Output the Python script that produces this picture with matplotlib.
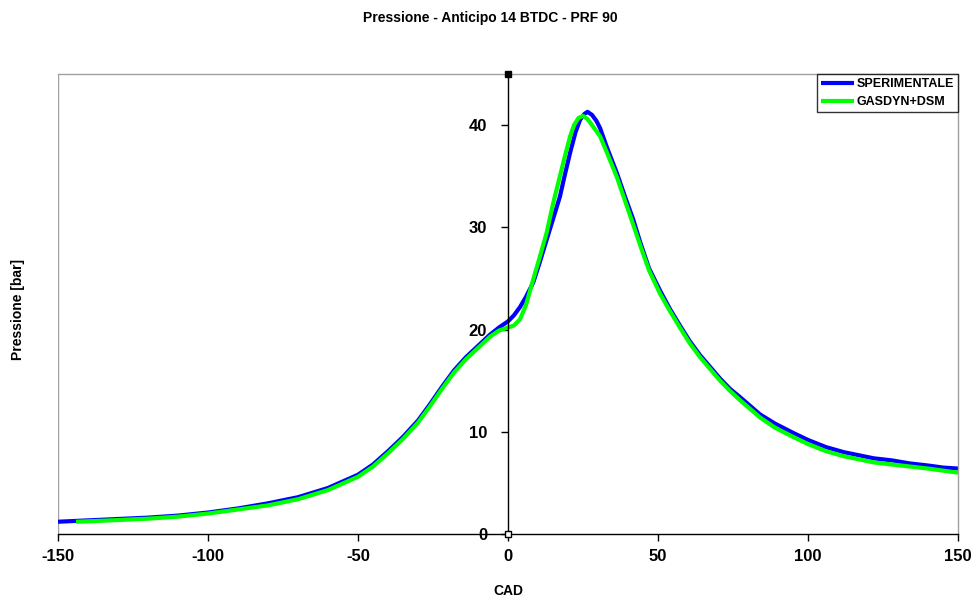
import matplotlib
matplotlib.use("Agg")
import matplotlib.pyplot as plt

# Data
cad_exp = [-150, -135, -120, -110, -100, -90, -80, -70, -60, -50, -45, -40, -35, -30, -26, -22,
           -18, -14, -10, -6, -3, 0, 2, 4, 6, 8.4, 10.5, 12.9, 15, 17.3, 19, 20.7, 22.5, 24,
           25.5, 26.5, 28, 29.5, 30.7, 33, 36.3, 39, 41.7, 44, 47, 50.7, 54, 57.3, 60.5, 64,
           67.5, 70.7, 74, 77.3, 84, 89, 95, 100, 106, 112, 117, 122, 128, 134, 140, 145, 150]
p_exp = [1.2, 1.4, 1.6, 1.8, 2.1, 2.5, 3.0, 3.6, 4.5, 5.8, 6.8, 8.1, 9.5, 11.1, 12.7, 14.4,
         16.0, 17.3, 18.4, 19.5, 20.2, 20.8, 21.4, 22.2, 23.2, 24.6, 26.5, 28.8, 30.8, 33.0, 35.2, 37.3, 39.3, 40.5,
         41.1, 41.3, 41.0, 40.4, 39.7, 37.8, 35.3, 33.0, 30.8, 28.6, 26.0, 23.8, 22.0, 20.4, 18.9, 17.5,
         16.3, 15.2, 14.2, 13.4, 11.7, 10.8, 9.9, 9.2, 8.5, 8.0, 7.7, 7.4, 7.2, 6.9, 6.7, 6.5, 6.4]

cad_sim = [-144, -135, -120, -110, -100, -90, -80, -70, -60, -50, -45, -40, -35, -30, -26, -22,
           -18, -14, -10, -6, -3, 0, 2, 4, 6, 8.4, 10.5, 12.9, 15, 17.3, 19, 20.7, 22, 23.5,
           25, 26.5, 28, 30.7, 33, 36.3, 39, 41.7, 44, 47, 50.7, 54, 57.3, 60.5, 64,
           67.5, 70.7, 74, 77.3, 84, 89, 95, 100, 106, 112, 117, 122, 128, 134, 140, 145, 150]
p_sim = [1.2, 1.3, 1.5, 1.7, 2.0, 2.4, 2.8, 3.4, 4.3, 5.6, 6.6, 7.9, 9.3, 10.9, 12.5, 14.2,
         15.8, 17.1, 18.2, 19.3, 19.9, 20.2, 20.4, 21.0, 22.4, 24.9, 27.0, 29.5, 32.3, 35.0, 37.0, 38.9, 40.0, 40.7,
         40.9, 40.6, 40.0, 38.9, 37.3, 34.9, 32.6, 30.3, 28.3, 25.8, 23.5, 21.8, 20.2, 18.7, 17.3,
         16.1, 15.0, 14.0, 13.1, 11.4, 10.4, 9.5, 8.8, 8.1, 7.6, 7.3, 7.0, 6.8, 6.6, 6.4, 6.2, 6.0]

x_ticks = [-150, -100, -50, 0, 50, 100, 150]
y_ticks = [0, 10, 20, 30, 40]

plt.rcParams['font.family'] = ['Liberation Sans', 'DejaVu Sans']

fig = plt.figure(figsize=(9.78, 6.04), dpi=100)
ax = fig.add_axes([58/978, 70/604, 900/978, 460/604])

ax.plot(cad_exp, p_exp, color='#0000ff', lw=3.0, label='SPERIMENTALE',
        solid_capstyle='butt', solid_joinstyle='round')
ax.plot(cad_sim, p_sim, color='#00ff00', lw=3.0, label='GASDYN+DSM',
        solid_capstyle='butt', solid_joinstyle='round')

ax.set_xlim(-150, 150)
ax.set_ylim(0, 45)

# Frame
for s in ['top', 'right']:
    ax.spines[s].set_color('#a0a0a0')
    ax.spines[s].set_linewidth(1.0)
ax.spines['bottom'].set_color('black')
ax.spines['bottom'].set_linewidth(1.0)
ax.spines['left'].set_position(('data', 0))
ax.spines['left'].set_color('black')
ax.spines['left'].set_linewidth(1.0)
ax.axvline(-150, color='#a0a0a0', lw=1.0, zorder=0)

ax.set_xticks(x_ticks)
ax.set_xticklabels([str(v) for v in x_ticks], fontsize=12, fontweight='bold')
ax.set_yticks(y_ticks)
ax.set_yticklabels([str(v) for v in y_ticks], fontsize=12, fontweight='bold')
ax.tick_params(axis='x', direction='out', length=5, width=1, pad=6)
ax.tick_params(axis='y', direction='out', length=5, width=1, pad=10)

# small markers on the y axis
ax.plot([0], [45], marker='s', ms=4, color='black', clip_on=False, zorder=5)
ax.plot([0], [0], marker='s', ms=4, mfc='white', mec='black', mew=1, clip_on=False, zorder=5)

ax.set_xlabel('CAD', fontsize=10, fontweight='bold', labelpad=14)
fig.text(18/978, 1 - 310/604, 'Pressione [bar]', rotation=90, fontsize=10,
         fontweight='bold', ha='center', va='center')
fig.suptitle('Pressione - Anticipo 14 BTDC - PRF 90', fontsize=10, fontweight='bold',
             x=490/978, y=1 - 18/604, va='center')

leg = ax.legend(loc='upper right', bbox_to_anchor=(1.0, 1.0), frameon=True, fancybox=False,
                edgecolor='black', fontsize=9, handlelength=2.6, handletextpad=0.2,
                borderpad=0.35, labelspacing=0.45, borderaxespad=0)
leg.get_frame().set_linewidth(1.0)
for t in leg.get_texts():
    t.set_fontweight('bold')

fig.savefig('out.png', dpi=100)
